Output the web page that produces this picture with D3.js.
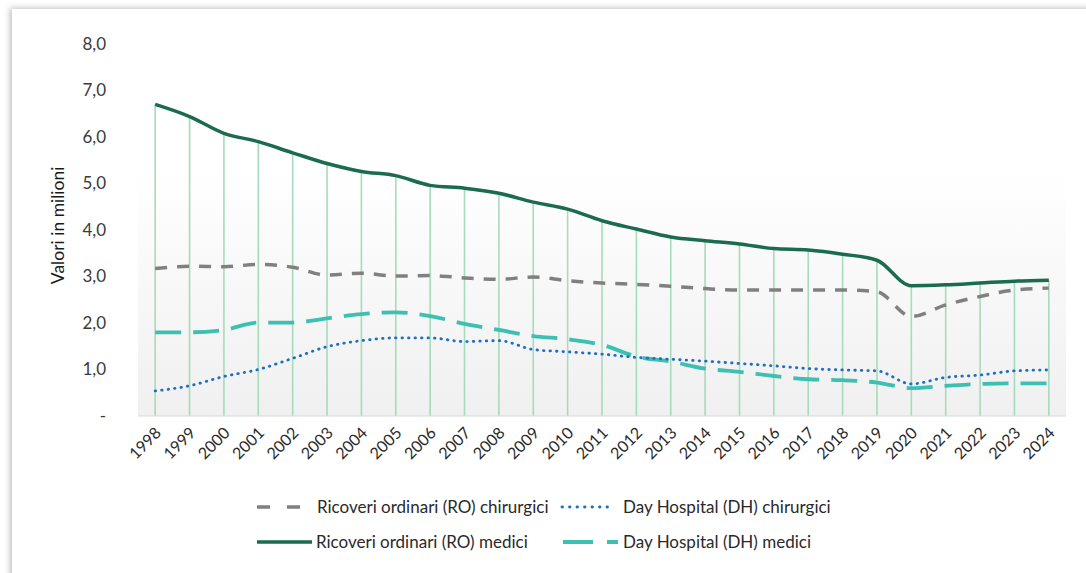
<!DOCTYPE html>
<html>
<head>
<meta charset="utf-8">
<script src="https://cdn.jsdelivr.net/npm/d3@7"></script>
<style>
  body { margin: 0; background: #fff; overflow: hidden; }
  #card {
    position: absolute; left: 12px; top: 9px; width: 1090px; height: 580px;
    background: #fff; box-shadow: -2px -1px 6px rgba(0,0,0,0.25);
  }
  svg { position: absolute; left: 0; top: 0; }
  text { font-family: Lato, "Open Sans", sans-serif; fill: #404040; }
</style>
</head>
<body>
<div id="card"></div>
<div id="chart"></div>
<script>
const years = d3.range(1998, 2025).map(String);

const roMedici = [6.70, 6.44, 6.08, 5.90, 5.66, 5.43, 5.26, 5.17, 4.96, 4.90, 4.79, 4.60, 4.45, 4.20, 4.02, 3.85, 3.77, 3.70, 3.60, 3.57, 3.48, 3.35, 2.80, 2.82, 2.86, 2.90, 2.92];
const roChirurgici = [3.17, 3.22, 3.21, 3.26, 3.20, 3.03, 3.07, 3.01, 3.02, 2.97, 2.94, 2.99, 2.91, 2.86, 2.83, 2.79, 2.74, 2.71, 2.71, 2.71, 2.71, 2.67, 2.14, 2.39, 2.57, 2.71, 2.75];
const dhMedici = [1.80, 1.80, 1.85, 2.01, 2.01, 2.10, 2.19, 2.23, 2.15, 1.98, 1.85, 1.72, 1.65, 1.53, 1.28, 1.17, 1.02, 0.95, 0.86, 0.79, 0.77, 0.72, 0.60, 0.65, 0.69, 0.70, 0.70];
const dhChirurgici = [0.54, 0.65, 0.85, 1.00, 1.24, 1.49, 1.62, 1.68, 1.68, 1.60, 1.62, 1.43, 1.38, 1.33, 1.26, 1.22, 1.18, 1.13, 1.08, 1.02, 0.99, 0.97, 0.69, 0.83, 0.88, 0.97, 0.99];

const yTicks = [0, 1, 2, 3, 4, 5, 6, 7, 8];

const series = [
  { name: "Ricoveri ordinari (RO) chirurgici", values: roChirurgici, color: "#808080", width: 3.5, dash: "12,10", legDash: "13,17" },
  { name: "Day Hospital (DH) chirurgici", values: dhChirurgici, color: "#1f6fc0", width: 2.8, dash: "0.5,6", legDash: "0.5,7", cap: "round" },
  { name: "Ricoveri ordinari (RO) medici", values: roMedici, color: "#1a6b4f", width: 3.5, dash: null, legDash: null },
  { name: "Day Hospital (DH) medici", values: dhMedici, color: "#3dbfb2", width: 3.8, dash: "26,12", legDash: "30,14" }
];

const W = 1086, H = 573;
const margin = { top: 44, right: 20, bottom: 157, left: 138 };
const plotW = 1066 - margin.left;
const plotH = 416 - margin.top;

const svg = d3.select("#chart").append("svg")
    .attr("width", W)
    .attr("height", H);

const grad = svg.append("defs").append("linearGradient")
    .attr("id", "bg").attr("x1", 0).attr("y1", 0).attr("x2", 0).attr("y2", 1);
grad.append("stop").attr("offset", "0%").attr("stop-color", "#ffffff");
grad.append("stop").attr("offset", "100%").attr("stop-color", "#f0f0f0");

const g = svg.append("g")
    .attr("transform", `translate(${margin.left},${margin.top})`);

const x = d3.scalePoint().domain(years).range([0, plotW]).padding(0.5);
const y = d3.scaleLinear().domain([0, 8]).range([plotH, 0]);

g.append("rect")
    .attr("y", y(5.3))
    .attr("width", plotW)
    .attr("height", plotH - y(5.3))
    .attr("fill", "url(#bg)");

// drop lines from the highest series down to the axis
g.selectAll(".drop")
  .data(years)
  .enter().append("line")
    .attr("class", "drop")
    .attr("x1", d => x(d)).attr("x2", d => x(d))
    .attr("y1", (d, i) => y(d3.max(series, s => s.values[i])))
    .attr("y2", plotH)
    .attr("stroke", "#a6dbbb")
    .attr("stroke-width", 1.6);

g.append("line")
    .attr("x1", 0).attr("x2", plotW)
    .attr("y1", plotH).attr("y2", plotH)
    .attr("stroke", "#d9d9d9")
    .attr("stroke-width", 1.2);

// y ticks
g.selectAll(".ytick")
  .data(yTicks)
  .enter().append("text")
    .attr("class", "ytick")
    .attr("x", -32)
    .attr("y", d => y(d))
    .attr("dy", "0.35em")
    .attr("text-anchor", "end")
    .style("font-size", "17px")
    .style("fill", "#3a3a3a")
    .text(d => d === 0 ? "-" : d3.format(".1f")(d).replace(".", ","));

g.append("text")
    .attr("transform", `translate(${64 - margin.left},${y(4.1)}) rotate(-90)`)
    .attr("text-anchor", "middle")
    .style("font-size", "17.5px")
    .style("fill", "#1a1a1a")
    .text("Valori in milioni");

// x labels
g.selectAll(".xlab")
  .data(years)
  .enter().append("text")
    .attr("class", "xlab")
    .attr("transform", d => `translate(${x(d) + 7},${plotH + 18}) rotate(-45)`)
    .attr("text-anchor", "end")
    .style("font-size", "16px")
    .style("fill", "#2a2a2a")
    .text(d => d);

const line = d3.line()
    .x((d, i) => x(years[i]))
    .y(d => y(d))
    .curve(d3.curveMonotoneX);

const drawOrder = [series[2], series[0], series[3], series[1]];
g.selectAll(".series")
  .data(drawOrder)
  .enter().append("path")
    .attr("class", "series")
    .attr("d", d => line(d.values))
    .attr("fill", "none")
    .attr("stroke", d => d.color)
    .attr("stroke-width", d => d.width)
    .attr("stroke-dasharray", d => d.dash)
    .attr("stroke-linecap", d => d.cap || "butt");

// legend
const legendPos = [
  { x: 257, y: 507, sw: 43, tx: 60 },
  { x: 562, y: 507, sw: 52, tx: 61 },
  { x: 257, y: 542, sw: 55, tx: 59 },
  { x: 563, y: 542, sw: 55, tx: 60 }
];

const legend = svg.selectAll(".legend")
  .data(series)
  .enter().append("g")
    .attr("class", "legend")
    .attr("transform", (d, i) => `translate(${legendPos[i].x},${legendPos[i].y})`);

legend.append("line")
    .attr("x1", 0)
    .attr("x2", (d, i) => legendPos[i].sw)
    .attr("stroke", d => d.color)
    .attr("stroke-width", d => d.width)
    .attr("stroke-dasharray", d => d.legDash)
    .attr("stroke-linecap", d => d.cap || "butt");

legend.append("text")
    .attr("x", (d, i) => legendPos[i].tx)
    .attr("dy", "0.35em")
    .style("font-size", "17px")
    .style("fill", "#2a2a2a")
    .text(d => d.name);
</script>
</body>
</html>
